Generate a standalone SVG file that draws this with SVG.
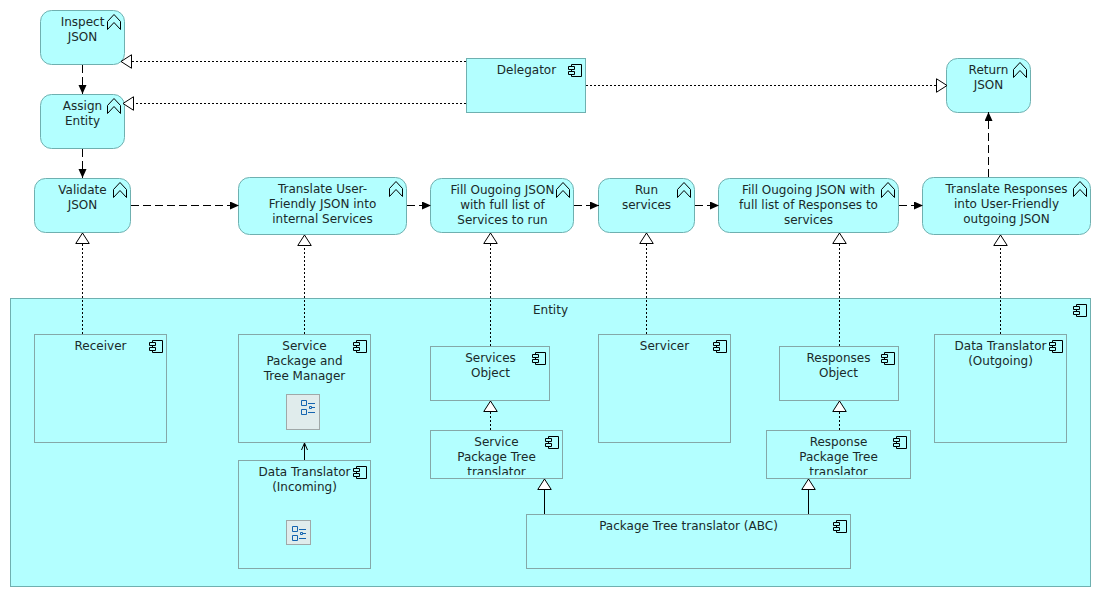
<svg xmlns="http://www.w3.org/2000/svg" width="1101" height="597" viewBox="0 0 1101 597">
<style>
text{font-family:"DejaVu Sans",sans-serif;font-size:12px;fill:#1a2a2a;text-anchor:middle;transform:translateX(.5px)}
.p{fill:#b3ffff;stroke:#6fb0b0;stroke-width:1}
.c{fill:#b3ffff;stroke:#6fb0b0;stroke-width:1}
.i{fill:#b3ffff;stroke:#85a8a8;stroke-width:1}
.ic{fill:none;stroke:#000;stroke-width:1}
.tb{fill:#b3ffff;stroke:#000;stroke-width:1}
.l{fill:none;stroke:#000;stroke-width:1}
.dash{stroke-dasharray:8 4}
.dot{stroke-dasharray:2 2}
.tile{fill:#e0ecec;stroke:#a0a8a8}
.fn{fill:none;stroke:#1565b0;stroke-width:1}
</style>
<defs>
<symbol id="comp" overflow="visible"><path class="ic" d="M3.500 .5H13.500V12.500H3.500Z"/><path class="tb" d="M.5 2.500H6.500V5.500H.5ZM.5 7.500H6.500V10.500H.5Z"/></symbol>
<symbol id="chev" overflow="visible"><path class="ic" d="M.5 6.500L7 -.5L13.500 6.500V14.500L7 7.500L.5 14.500Z"/></symbol>
<marker id="fa" markerUnits="userSpaceOnUse" markerWidth="10" markerHeight="10" refX="9" refY="4" orient="auto"><path d="M0 0L9 4L0 8Z" fill="#000"/></marker>
<marker id="oa" markerUnits="userSpaceOnUse" markerWidth="14" markerHeight="16" refX="11" refY="7.500" orient="auto"><path d="M.5 .75L11 7.500L.5 14.250Z" fill="#fff" stroke="#000"/></marker>
<marker id="va" markerUnits="userSpaceOnUse" markerWidth="10" markerHeight="10" refX="7" refY="3.500" orient="auto"><path d="M0 .5L7 3.500L0 6.500" fill="none" stroke="#000"/></marker>
<clipPath id="clipS"><rect x="431" y="431" width="131" height="44"/></clipPath>
<clipPath id="clipR"><rect x="767" y="431" width="143" height="44"/></clipPath>
</defs>
<rect width="1101" height="597" fill="#fff"/>

<g id="entity"><rect class="c" x="10.500" y="298.500" width="1080" height="288"/><text x="550" y="314">Entity</text><use href="#comp" x="1073" y="304"/></g>

<g id="inspect"><rect class="p" x="40.500" y="10.500" width="84" height="54" rx="11"/><text x="82" y="26">Inspect</text><text x="82" y="41">JSON</text><use href="#chev" x="107" y="15"/></g>
<g id="assign"><rect class="p" x="40.500" y="94.500" width="84" height="54" rx="11"/><text x="82" y="110">Assign</text><text x="82" y="125">Entity</text><use href="#chev" x="107" y="99"/></g>
<g id="validate"><rect class="p" x="34.500" y="178.500" width="96" height="54" rx="11"/><text x="82" y="194">Validate</text><text x="82" y="209">JSON</text><use href="#chev" x="113" y="183"/></g>
<g id="translate-in"><rect class="p" x="238.500" y="177.500" width="168" height="57" rx="11"/><text x="322" y="193">Translate User-</text><text x="322" y="208">Friendly JSON into</text><text x="322" y="223">internal Services</text><use href="#chev" x="389" y="182"/></g>
<g id="fill-services"><rect class="p" x="430.500" y="178.500" width="143" height="54" rx="11"/><text x="502" y="194">Fill Ougoing JSON</text><text x="502" y="209">with full list of</text><text x="502" y="224">Services to run</text><use href="#chev" x="556" y="183"/></g>
<g id="run"><rect class="p" x="598.500" y="178.500" width="96" height="54" rx="11"/><text x="646" y="194">Run</text><text x="646" y="209">services</text><use href="#chev" x="677" y="183"/></g>
<g id="fill-responses"><rect class="p" x="718.500" y="178.500" width="180" height="54" rx="11"/><text x="808" y="194">Fill Ougoing JSON with</text><text x="808" y="209">full list of Responses to</text><text x="808" y="224">services</text><use href="#chev" x="881" y="183"/></g>
<g id="translate-out"><rect class="p" x="922.500" y="177.500" width="168" height="57" rx="11"/><text x="1006" y="193">Translate Responses</text><text x="1006" y="208">into User-Friendly</text><text x="1006" y="223">outgoing JSON</text><use href="#chev" x="1073" y="182"/></g>
<g id="return"><rect class="p" x="946.500" y="58.500" width="84" height="54" rx="11"/><text x="988" y="74">Return</text><text x="988" y="89">JSON</text><use href="#chev" x="1013" y="63"/></g>
<g id="delegator"><rect class="c" x="466.500" y="58.500" width="119" height="54"/><text x="526" y="74">Delegator</text><use href="#comp" x="568" y="64"/></g>

<g id="receiver"><rect class="i" x="34.500" y="334.500" width="132" height="108"/><text x="100" y="350">Receiver</text><use href="#comp" x="149" y="340"/></g>
<g id="manager"><rect class="i" x="238.500" y="334.500" width="132" height="108"/><text x="304" y="350">Service</text><text x="304" y="365">Package and</text><text x="304" y="380">Tree Manager</text><use href="#comp" x="353" y="340"/>
<rect class="tile" x="286.500" y="394.500" width="33" height="35"/><path class="fn" d="M301.500 400.500h5v5h-5zM301.500 409.500h5v5h-5zM309.500 406.500h2v2h-2zM308 403.500h7M312 407.500h3M308 412.500h7"/></g>
<g id="translator-in"><rect class="i" x="238.500" y="460.500" width="132" height="108"/><text x="304" y="476">Data Translator</text><text x="304" y="491">(Incoming)</text><use href="#comp" x="353" y="466"/>
<rect class="tile" x="286.500" y="520.500" width="24" height="24"/><path class="fn" d="M292.500 526.500h5v5h-5zM292.500 535.500h5v5h-5zM300.500 532.500h2v2h-2zM299 529.500h7M303 533.500h3M299 538.500h7"/></g>
<g id="services-object"><rect class="i" x="430.500" y="346.500" width="119" height="54"/><text x="490" y="362">Services</text><text x="490" y="377">Object</text><use href="#comp" x="532" y="352"/></g>
<g id="service-tree"><rect class="i" x="430.500" y="430.500" width="132" height="48"/><g clip-path="url(#clipS)"><text x="496" y="446">Service</text><text x="496" y="461">Package Tree</text><text x="496" y="476">translator</text></g><use href="#comp" x="545" y="436"/></g>
<g id="servicer"><rect class="i" x="598.500" y="334.500" width="132" height="108"/><text x="664" y="350">Servicer</text><use href="#comp" x="713" y="340"/></g>
<g id="responses-object"><rect class="i" x="779.500" y="346.500" width="119" height="54"/><text x="838" y="362">Responses</text><text x="838" y="377">Object</text><use href="#comp" x="881" y="352"/></g>
<g id="response-tree"><rect class="i" x="766.500" y="430.500" width="144" height="48"/><g clip-path="url(#clipR)"><text x="838" y="446">Response</text><text x="838" y="461">Package Tree</text><text x="838" y="476">translator</text></g><use href="#comp" x="893" y="436"/></g>
<g id="translator-out"><rect class="i" x="934.500" y="334.500" width="132" height="108"/><text x="1000" y="350">Data Translator</text><text x="1000" y="365">(Outgoing)</text><use href="#comp" x="1049" y="340"/></g>
<g id="abc"><rect class="i" x="526.500" y="514.500" width="324" height="54"/><text x="688" y="530">Package Tree translator (ABC)</text><use href="#comp" x="833" y="520"/></g>

<g id="connectors">
<path class="l dash" marker-end="url(#fa)" d="M82.500 65V94"/>
<path class="l dash" marker-end="url(#fa)" d="M82.500 149V178"/>
<path class="l dash" marker-end="url(#fa)" d="M131 205.500H239"/>
<path class="l dash" marker-end="url(#fa)" d="M407 205.500H431"/>
<path class="l dash" marker-end="url(#fa)" d="M574 205.500H599"/>
<path class="l dash" marker-end="url(#fa)" d="M695 205.500H719"/>
<path class="l dash" marker-end="url(#fa)" d="M899 205.500H923"/>
<path class="l dash" marker-end="url(#fa)" d="M988.500 177V112"/>
<path class="l dot" marker-end="url(#oa)" d="M466 61.500H121"/>
<path class="l dot" marker-end="url(#oa)" d="M466 103.500H123"/>
<path class="l dot" marker-end="url(#oa)" d="M586 85.500H947"/>
<path class="l dot" marker-end="url(#oa)" d="M82.500 334V233"/>
<path class="l dot" marker-end="url(#oa)" d="M304.500 334V235"/>
<path class="l dot" marker-end="url(#oa)" d="M490.500 346V233"/>
<path class="l dot" marker-end="url(#oa)" d="M646.500 334V233"/>
<path class="l dot" marker-end="url(#oa)" d="M839.500 346V233"/>
<path class="l dot" marker-end="url(#oa)" d="M1000.500 334V235"/>
<path class="l dot" marker-end="url(#oa)" d="M490.500 430V401"/>
<path class="l dot" marker-end="url(#oa)" d="M839.500 430V401"/>
<path class="l" marker-end="url(#oa)" d="M544.500 514V479"/>
<path class="l" marker-end="url(#oa)" d="M808.500 514V479"/>
<path class="l" marker-end="url(#va)" d="M304.500 460V443"/>
</g>
</svg>
